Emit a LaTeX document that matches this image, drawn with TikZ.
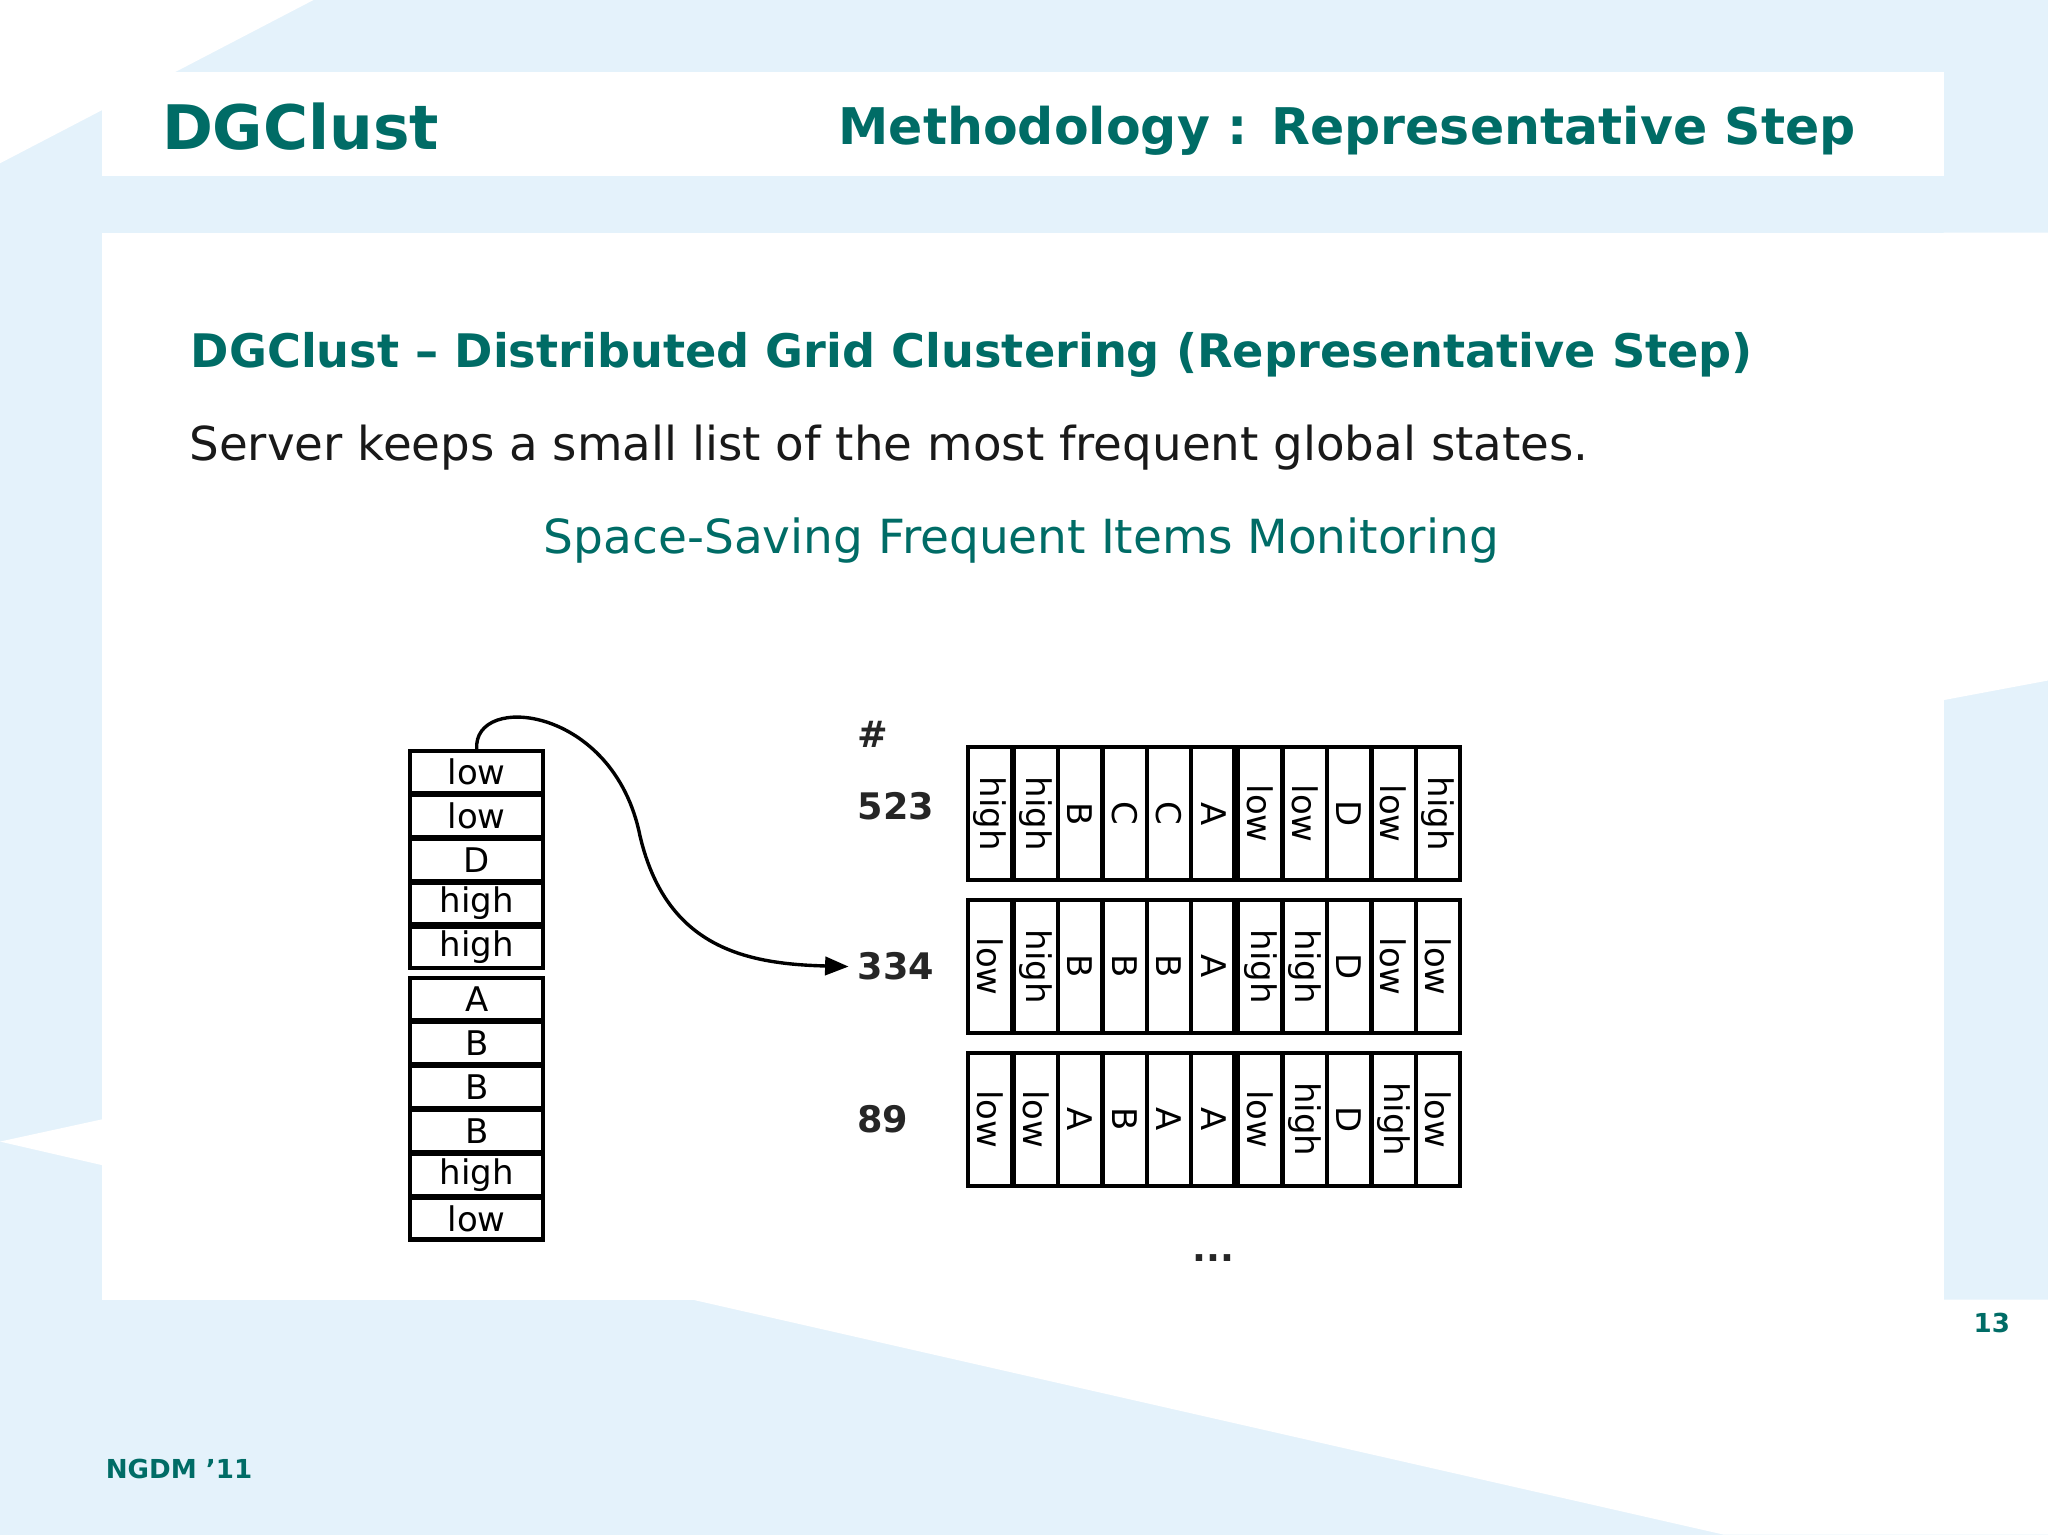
\documentclass[tikz,border=0pt]{standalone}
\usepackage{fontspec}
\setmainfont{DejaVu Sans}[Ligatures=ResetAll]
\usetikzlibrary{arrows.meta}
\definecolor{bgblue}{HTML}{E4F2FB}
\definecolor{teal}{HTML}{006C66}
\tikzset{
  cell/.style={draw=black,line width=1.6pt,minimum width=51pt,minimum height=16pt,inner sep=0pt,font=\fontsize{13}{13}\selectfont},
  vcell/.style={draw=black,line width=1.2pt,minimum width=51pt,minimum height=16.5pt,inner sep=0pt,rotate=-90,font=\fontsize{13}{13}\selectfont},
  num/.style={font=\bfseries\fontsize{14}{14}\selectfont,text=black!85}
}
\begin{document}
\begin{tikzpicture}[x=0.5pt,y=-0.5pt]
\useasboundingbox (0,0) rectangle (1568,1175);
\fill[bgblue] (0,0) rectangle (1568,1175);
\fill[white] (0,0) -- (240,0) -- (0,125) -- cycle;
\fill[white] (0,874) -- (78,857) -- (78,892) -- cycle;
\fill[white] (1488,178) -- (1568,178) -- (1568,521) -- (1488,536) -- cycle;
\fill[white] (530,995) -- (1320,1175) -- (1568,1175) -- (1568,995) -- cycle;
\fill[white] (78,55) rectangle (1488,135);
\fill[white] (78,178) rectangle (1488,995);
\node[anchor=west,text=teal,font=\bfseries\fontsize{23.5}{24}\selectfont] (t1) at (117,97) {DGClust};
\node[anchor=east,text=teal,font=\bfseries\fontsize{19.35}{20}\selectfont] (t2) at (1428,100) {Methodology : Representative Step};
\node[anchor=west,text=teal,font=\bfseries\fontsize{17.7}{18}\selectfont] (h1) at (139,272) {DGClust – Distributed Grid Clustering (Representative Step)};
\node[anchor=west,text=black!90,font=\fontsize{17.9}{18}\selectfont] (h2) at (138,343) {Server keeps a small list of the most frequent global states.};
\node[text=teal,font=\fontsize{18}{18}\selectfont] (h3) at (782,414) {Space-Saving Frequent Items Monitoring};
% left stack
\foreach \t [count=\i from 0] in {low,low,D,high,high} {
  \node[cell] (s\i) at (365,{591+33.6*\i}) {\t};
}
\foreach \t [count=\i from 5] in {A,B,B,B,high,low} {
  \node[cell] (s\i) at (365,{765+33.6*(\i-5)}) {\t};
}
% numbers
\node[num] (hash) at (668,562) {\#};
\node[num] (n1) at (686,617) {523};
\node[num] (n2) at (686,740) {334};
\node[num] (n3) at (676,857) {89};
\node[num] (dots) at (929,963) {...};
% grids
\def\gx{{758,793,827,861,895,929,965,999,1033,1067,1101}}
\foreach \row/\yy in {{high,high,B,C,C,A,low,low,D,low,high}/623,{low,high,B,B,B,A,high,high,D,low,low}/740,{low,low,A,B,A,A,low,high,D,high,low}/857} {
  \foreach \t [count=\j from 0] in \row {
    \pgfmathsetmacro{\xx}{\gx[\j]}
    \node[vcell] (g\yy-\j) at (\xx,\yy) {\t};
  }
  \draw[line width=1.6pt] (741,\yy-51) rectangle (945,\yy+51);
  \draw[line width=1.6pt] (948,\yy-51) rectangle (1118,\yy+51);
}
% arrow
\coordinate (mid) at (490,640);
\draw[line width=1.3pt,-{Triangle[length=9pt,width=7pt]}] (s0.north) .. controls (362,530) and (470,540) .. (mid) .. controls (510,725) and (570,738) .. (n2.west);
\node[text=teal,font=\bfseries\fontsize{10}{10}\selectfont] (pg) at (1525,1013) {13};
\node[anchor=west,text=teal,font=\bfseries\fontsize{10}{10}\selectfont] (ft) at (74,1125) {NGDM '11};
\end{tikzpicture}
\end{document}
